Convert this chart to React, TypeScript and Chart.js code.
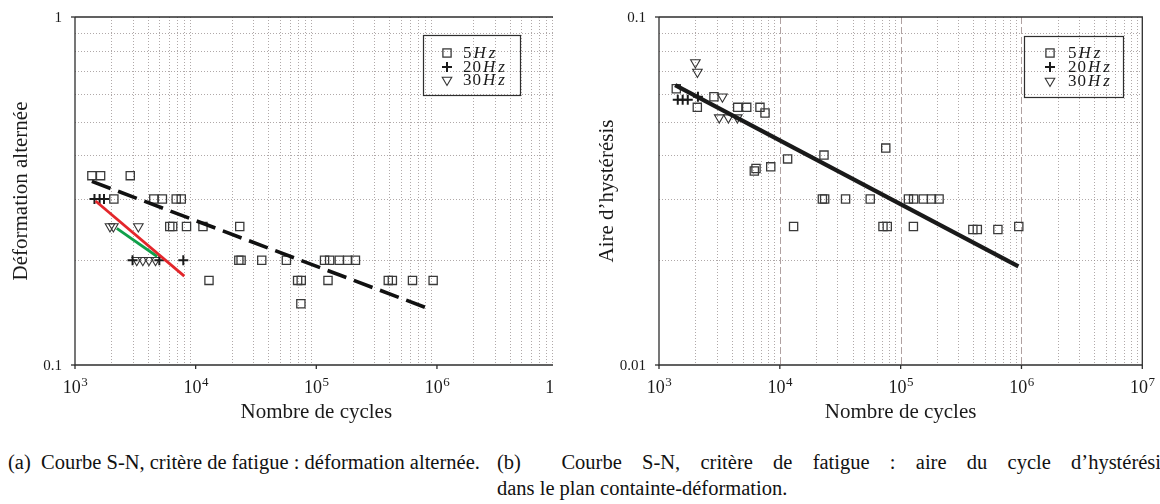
import React, { useEffect, useRef } from 'react';
import { Chart, registerables } from 'chart.js';
Chart.register(...registerables);

// ---------- Data: panel (a) alternating strain vs number of cycles ----------
const cyclesA_5Hz = [1380, 1630, 2870, 2100, 4500, 5300, 6900, 7600, 6100, 6450, 8400, 11500, 23200, 22800, 23800, 35300, 56500, 117000, 129000, 155000, 182000, 211000, 12900, 70000, 75000, 125000, 395000, 427000, 627000, 930000, 74500];
const strainA_5Hz = [0.35, 0.35, 0.35, 0.3, 0.3, 0.3, 0.3, 0.3, 0.25, 0.25, 0.25, 0.25, 0.25, 0.2, 0.2, 0.2, 0.2, 0.2, 0.2, 0.2, 0.2, 0.2, 0.175, 0.175, 0.175, 0.175, 0.175, 0.175, 0.175, 0.175, 0.15];
const cyclesA_20Hz = [1450, 1600, 1740, 3000, 5000, 7900];
const strainA_20Hz = [0.3, 0.3, 0.3, 0.2, 0.2, 0.2];
const cyclesA_30Hz = [1950, 2080, 3350, 3250, 3650, 4100, 4650];
const strainA_30Hz = [0.25, 0.25, 0.25, 0.2, 0.2, 0.2, 0.2];
const fitA_5Hz_N = [1380, 875000];
const fitA_5Hz_S = [0.337, 0.1447];
const fitA_20Hz_N = [1480, 8050];
const fitA_20Hz_S = [0.296, 0.18];
const fitA_30Hz_N = [2220, 4800];
const fitA_30Hz_S = [0.247, 0.205];

// ---------- Data: panel (b) hysteresis area vs number of cycles ----------
const cyclesB_5Hz = [1390, 2075, 2850, 4480, 5320, 6850, 7540, 6150, 6350, 8410, 11600, 23200, 75300, 22500, 23500, 35000, 56000, 116000, 128000, 154000, 180000, 208000, 13000, 71400, 77500, 127500, 950000, 396000, 431000, 638000];
const areaB_5Hz = [0.0622, 0.055, 0.059, 0.055, 0.055, 0.055, 0.053, 0.0361, 0.0367, 0.0371, 0.0391, 0.0401, 0.042, 0.03, 0.03, 0.03, 0.03, 0.03, 0.03, 0.03, 0.03, 0.03, 0.025, 0.025, 0.025, 0.025, 0.025, 0.0245, 0.0245, 0.0245];
const cyclesB_20Hz = [1430, 1570, 1730, 2100];
const areaB_20Hz = [0.0578, 0.0578, 0.0578, 0.059];
const cyclesB_30Hz = [2000, 2080, 3350, 3150, 3750, 4450];
const areaB_30Hz = [0.074, 0.0695, 0.059, 0.0514, 0.0514, 0.0514];
const fitB_N = [1360, 943000];
const fitB_A = [0.0637, 0.0192];

// ---------- Axes / labels ----------
const xTickValues = [1e3, 1e4, 1e5, 1e6, 1e7];
const xTickExponents = ['3', '4', '5', '6', '7'];
const yTicksA = [1, 0.1];
const yTickLabelsA = ['1', '0.1'];
const yTicksB = [0.1, 0.01];
const yTickLabelsB = ['0.1', '0.01'];
const legendDigits = ['5', '20', '30'];
const minorMultipliers = [2, 3, 4, 5, 6, 7, 8, 9];

const SERIF = '"Liberation Serif", "Times New Roman", serif';

const pts = (xs: number[], ys: number[]) => xs.map((x, i) => ({ x, y: ys[i] }));

function drawMarker(ctx: CanvasRenderingContext2D, kind: string, x: number, y: number) {
  ctx.save();
  ctx.setLineDash([]);
  if (kind === 'square') {
    ctx.strokeStyle = '#3a3a3a';
    ctx.lineWidth = 1.3;
    ctx.strokeRect(x - 4.1, y - 4.1, 8.2, 8.2);
  } else if (kind === 'plus') {
    ctx.strokeStyle = '#1a1a1a';
    ctx.lineWidth = 2;
    ctx.beginPath();
    ctx.moveTo(x - 5, y); ctx.lineTo(x + 5, y);
    ctx.moveTo(x, y - 5); ctx.lineTo(x, y + 5);
    ctx.stroke();
  } else {
    ctx.strokeStyle = '#333';
    ctx.lineWidth = 1.1;
    const r = 5.5;
    ctx.beginPath();
    ctx.moveTo(x - r * 0.866, y - r * 0.5);
    ctx.lineTo(x + r * 0.866, y - r * 0.5);
    ctx.lineTo(x, y + r);
    ctx.closePath();
    ctx.stroke();
  }
  ctx.restore();
}

type PanelCfg = {
  yMin: number;
  yMax: number;
  yTicks: number[];
  yTickLabels: string[];
  yTitle: string;
  yTitleX: number;
  majorVertical: boolean;
  rightBorder: boolean;
  legend: { left: number; top: number; w: number; h: number; markerX: number; textX: number; rows: number[] };
  padding: { left: number; right: number; top: number; bottom: number };
  datasets: any[];
};

function makeDecor(cfg: PanelCfg) {
  return {
    id: 'decor',
    beforeDatasetsDraw(chart: any) {
      const ctx: CanvasRenderingContext2D = chart.ctx;
      const xs = chart.scales.x;
      const ys = chart.scales.y;
      const { left, right, top, bottom } = chart.chartArea;
      ctx.save();
      ctx.strokeStyle = 'rgba(150,140,140,0.75)';
      ctx.lineWidth = 1;
      ctx.setLineDash([1, 2]);
      for (let k = 3; k < 7; k++) {
        for (const m of minorMultipliers) {
          const px = Math.round(xs.getPixelForValue(m * Math.pow(10, k))) + 0.5;
          ctx.beginPath();
          ctx.moveTo(px, top);
          ctx.lineTo(px, bottom);
          ctx.stroke();
        }
      }
      for (const m of minorMultipliers) {
        const py = Math.round(ys.getPixelForValue(m * cfg.yMin)) + 0.5;
        ctx.beginPath();
        ctx.moveTo(left, py);
        ctx.lineTo(right, py);
        ctx.stroke();
      }
      if (cfg.majorVertical) {
        ctx.strokeStyle = 'rgba(150,130,130,0.75)';
        ctx.setLineDash([7, 3]);
        for (const v of [1e4, 1e5, 1e6]) {
          const px = Math.round(xs.getPixelForValue(v)) + 0.5;
          ctx.beginPath();
          ctx.moveTo(px, top);
          ctx.lineTo(px, bottom);
          ctx.stroke();
        }
      }
      ctx.setLineDash([]);
      ctx.strokeStyle = '#2e2e2e';
      ctx.lineWidth = 1.3;
      ctx.beginPath();
      ctx.moveTo(left, top);
      ctx.lineTo(left, bottom);
      ctx.lineTo(right, bottom);
      if (cfg.rightBorder) ctx.lineTo(right, top);
      else ctx.moveTo(right, top);
      ctx.lineTo(left, top);
      ctx.stroke();
      for (const v of xTickValues) {
        const px = xs.getPixelForValue(v);
        ctx.beginPath();
        ctx.moveTo(px, bottom);
        ctx.lineTo(px, bottom + 4);
        ctx.stroke();
      }
      for (const v of cfg.yTicks) {
        const py = ys.getPixelForValue(v);
        ctx.beginPath();
        ctx.moveTo(left - 4, py);
        ctx.lineTo(left, py);
        ctx.stroke();
      }
      ctx.restore();
    },
    afterDraw(chart: any) {
      const ctx: CanvasRenderingContext2D = chart.ctx;
      const xs = chart.scales.x;
      const ys = chart.scales.y;
      const { left, right, top, bottom } = chart.chartArea;
      ctx.save();
      ctx.fillStyle = '#1a1a1a';
      xTickValues.forEach((v, i) => {
        const px = xs.getPixelForValue(v);
        ctx.font = `18px ${SERIF}`;
        const w1 = ctx.measureText('10').width;
        ctx.font = `13px ${SERIF}`;
        const w2 = ctx.measureText(xTickExponents[i]).width;
        const start = px - (w1 + w2) / 2;
        ctx.textAlign = 'left';
        ctx.textBaseline = 'alphabetic';
        ctx.font = `18px ${SERIF}`;
        ctx.fillText('10', start, bottom + 28);
        ctx.font = `13px ${SERIF}`;
        ctx.fillText(xTickExponents[i], start + w1 + 0.5, bottom + 21);
      });
      ctx.font = `15px ${SERIF}`;
      ctx.textAlign = 'right';
      ctx.textBaseline = 'middle';
      cfg.yTicks.forEach((v, i) => {
        ctx.fillText(cfg.yTickLabels[i], left - 13, ys.getPixelForValue(v) + 1);
      });
      ctx.font = `21px ${SERIF}`;
      ctx.textAlign = 'center';
      ctx.textBaseline = 'alphabetic';
      ctx.fillText('Nombre de cycles', (left + right) / 2, bottom + 53);
      ctx.save();
      ctx.translate(cfg.yTitleX, (top + bottom) / 2);
      ctx.rotate(-Math.PI / 2);
      ctx.fillText(cfg.yTitle, 0, 0);
      ctx.restore();
      const L = cfg.legend;
      ctx.strokeStyle = '#2e2e2e';
      ctx.lineWidth = 1.2;
      ctx.strokeRect(L.left + 0.5, L.top + 0.5, L.w, L.h);
      const kinds = ['square', 'plus', 'tri'];
      L.rows.forEach((ry, i) => {
        drawMarker(ctx, kinds[i], L.markerX, ry);
        ctx.fillStyle = '#1a1a1a';
        ctx.textAlign = 'left';
        ctx.textBaseline = 'middle';
        ctx.font = `17px ${SERIF}`;
        (ctx as any).letterSpacing = '1px';
        ctx.fillText(legendDigits[i], L.textX, ry + 1);
        const wd = ctx.measureText(legendDigits[i]).width;
        ctx.font = `italic 17px ${SERIF}`;
        (ctx as any).letterSpacing = '3px';
        ctx.fillText('Hz', L.textX + wd + 1, ry + 1);
        (ctx as any).letterSpacing = '0px';
      });
      ctx.restore();
    },
  };
}

function buildChart(canvas: HTMLCanvasElement, cfg: PanelCfg) {
  return new Chart(canvas, {
    type: 'scatter',
    data: { datasets: cfg.datasets },
    options: {
      animation: false,
      responsive: false,
      maintainAspectRatio: false,
      devicePixelRatio: 1,
      events: [],
      layout: { padding: cfg.padding },
      scales: {
        x: { type: 'logarithmic', min: 1e3, max: 1e7, display: false },
        y: { type: 'logarithmic', min: cfg.yMin, max: cfg.yMax, display: false },
      },
      plugins: { legend: { display: false }, tooltip: { enabled: false } },
    } as any,
    plugins: [makeDecor(cfg) as any],
  });
}

const squareStyle = { pointStyle: 'rect', pointRadius: 5.8, pointBorderWidth: 1.3, pointBorderColor: '#3a3a3a', pointBackgroundColor: 'rgba(0,0,0,0)', showLine: false };
const plusStyle = { pointStyle: 'cross', pointRadius: 5, pointBorderWidth: 2, pointBorderColor: '#1a1a1a', pointBackgroundColor: 'rgba(0,0,0,0)', showLine: false };
const triStyle = { pointStyle: 'triangle', pointRotation: 180, pointRadius: 5.5, pointBorderWidth: 1.1, pointBorderColor: '#333', pointBackgroundColor: 'rgba(0,0,0,0)', showLine: false };
const lineStyle = (color: string, width: number, dash: number[] = []) => ({ showLine: true, pointRadius: 0, borderColor: color, borderWidth: width, borderDash: dash, borderCapStyle: 'butt', fill: false });

export default function App() {
  const refA = useRef<HTMLCanvasElement>(null);
  const refB = useRef<HTMLCanvasElement>(null);

  useEffect(() => {
    const cfgA: PanelCfg = {
      yMin: 0.1,
      yMax: 1,
      yTicks: yTicksA,
      yTickLabels: yTickLabelsA,
      yTitle: 'Déformation alternée',
      yTitleX: 27,
      majorVertical: false,
      rightBorder: true,
      legend: { left: 423, top: 35, w: 97, h: 60, markerX: 447, textX: 463, rows: [53, 67, 80] },
      padding: { left: 75, right: 600 - 557.6, top: 17, bottom: 430 - 365 },
      datasets: [
        { ...lineStyle('#111', 3.6, [20, 8]), data: pts(fitA_5Hz_N, fitA_5Hz_S) },
        { ...lineStyle('#e3262b', 2.8), data: pts(fitA_20Hz_N, fitA_20Hz_S) },
        { ...lineStyle('#10a04a', 2.8), data: pts(fitA_30Hz_N, fitA_30Hz_S) },
        { ...plusStyle, data: pts(cyclesA_20Hz, strainA_20Hz) },
        { ...triStyle, data: pts(cyclesA_30Hz, strainA_30Hz) },
        { ...squareStyle, data: pts(cyclesA_5Hz, strainA_5Hz) },
      ],
    };
    const cfgB: PanelCfg = {
      yMin: 0.01,
      yMax: 0.1,
      yTicks: yTicksB,
      yTickLabels: yTickLabelsB,
      yTitle: 'Aire d’hystérésis',
      yTitleX: 33,
      majorVertical: true,
      rightBorder: true,
      legend: { left: 1024 - 580, top: 36, w: 99, h: 61, markerX: 1050 - 580, textX: 1068 - 580, rows: [53, 67, 81] },
      padding: { left: 79, right: 580 - 562.3, top: 17, bottom: 430 - 365 },
      datasets: [
        { ...lineStyle('#1a1a1a', 4.2), data: pts(fitB_N, fitB_A) },
        { ...plusStyle, data: pts(cyclesB_20Hz, areaB_20Hz) },
        { ...triStyle, data: pts(cyclesB_30Hz, areaB_30Hz) },
        { ...squareStyle, data: pts(cyclesB_5Hz, areaB_5Hz) },
      ],
    };
    const a = buildChart(refA.current!, cfgA);
    const b = buildChart(refB.current!, cfgB);
    return () => {
      a.destroy();
      b.destroy();
    };
  }, []);

  const captionStyle: React.CSSProperties = {
    position: 'absolute',
    fontFamily: SERIF,
    fontSize: 20.5,
    color: '#111',
    whiteSpace: 'nowrap',
    lineHeight: '26px',
  };

  return (
    <div style={{ position: 'absolute', left: 0, top: 0, width: 1160, height: 504, overflow: 'hidden', background: '#fff' }}>
      <div style={{ position: 'absolute', left: 0, top: 0, width: 553, height: 430, overflow: 'hidden' }}>
        <canvas ref={refA} width={600} height={430} style={{ display: 'block' }} />
      </div>
      <canvas ref={refB} width={580} height={430} style={{ position: 'absolute', left: 580, top: 0, display: 'block' }} />
      <div style={{ ...captionStyle, left: 8, top: 449 }}>(a)&nbsp; Courbe S-N, critère de fatigue : déformation alternée.</div>
      <div style={{ ...captionStyle, left: 497, top: 449, width: 672, whiteSpace: 'normal', textAlign: 'justify', textAlignLast: 'justify' as any }}>
        (b)&nbsp; Courbe S-N, critère de fatigue : aire du cycle d’hystérésis
      </div>
      <div style={{ ...captionStyle, left: 497, top: 475 }}>dans le plan containte-déformation.</div>
    </div>
  );
}
